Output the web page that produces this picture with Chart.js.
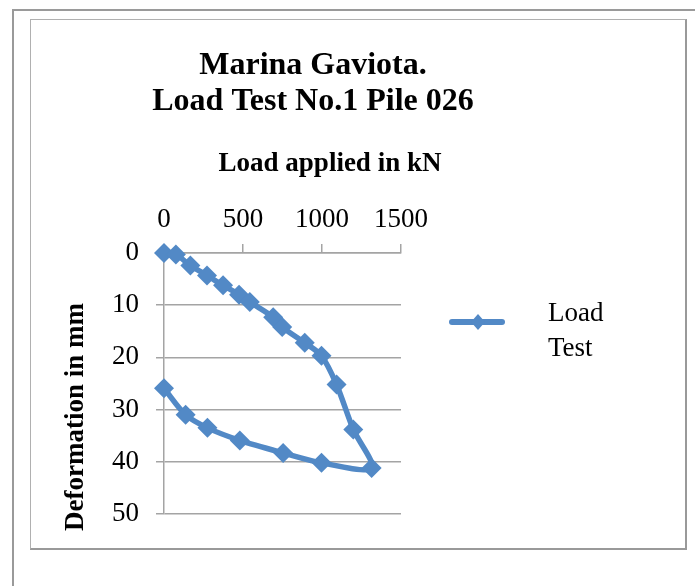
<!DOCTYPE html>
<html>
<head>
<meta charset="utf-8">
<script src="https://cdn.jsdelivr.net/npm/chart.js@4.4.1/dist/chart.umd.min.js"></script>
<style>
  body { margin: 0; background: #fff; overflow: hidden; }
  #frame { position: absolute; left: 12px; top: 9px; width: 800px; height: 700px;
           border-left: 2px solid #9a9a9a; border-top: 2px solid #9a9a9a; }
  #box { position: absolute; left: 30px; top: 19px; width: 654px; height: 528px;
         border: 1px solid #b0b0b0; border-right: 2px solid #999; border-bottom: 2px solid #999; }
  canvas { display: block; }
</style>
</head>
<body>
<div id="frame"></div>
<div id="box"><canvas id="chart" width="654" height="528"></canvas></div>
<script>
// values
const loadKN = [0, 75, 167, 272, 374, 475, 543, 691, 748, 891, 997, 1092, 1198, 1314, 997, 754, 480, 275, 137, 0];
const deformationMm = [0, 0.3, 2.4, 4.3, 6.2, 8.0, 9.4, 12.3, 14.2, 17.2, 19.7, 25.2, 33.8, 41.2, 40.2, 38.3, 35.9, 33.5, 31.0, 25.9];
const titleLines = ['Marina Gaviota.', 'Load Test No.1 Pile 026'];
const xTitle = 'Load applied in kN';
const yTitle = 'Deformation in mm';
const seriesName = ['Load', 'Test'];

const blue = '#5289c6';
const gridGray = '#a4a4a4';

// titles and legend drawn by hand, Excel puts them off-centre
const textPlugin = {
  id: 'texts',
  afterDraw(chart) {
    const ctx = chart.ctx;
    ctx.save();
    ctx.fillStyle = '#000';
    ctx.textAlign = 'center';
    ctx.textBaseline = 'alphabetic';
    ctx.font = 'bold 32px "Liberation Serif"';
    ctx.fillText(titleLines[0], 282, 54);
    ctx.fillText(titleLines[1], 282, 90);
    ctx.font = 'bold 27px "Liberation Serif"';
    ctx.fillText(xTitle, 299, 151);
    ctx.translate(52, 397);
    ctx.rotate(-Math.PI / 2);
    ctx.fillText(yTitle, 0, 0);
    ctx.restore();

    // legend
    ctx.save();
    ctx.strokeStyle = blue;
    ctx.lineWidth = 6;
    ctx.lineCap = 'round';
    ctx.beginPath();
    ctx.moveTo(421, 302);
    ctx.lineTo(471, 302);
    ctx.stroke();
    ctx.fillStyle = blue;
    ctx.beginPath();
    ctx.moveTo(447, 294); ctx.lineTo(454, 302); ctx.lineTo(447, 310); ctx.lineTo(440, 302);
    ctx.closePath();
    ctx.fill();
    ctx.fillStyle = '#000';
    ctx.font = '27px "Liberation Serif"';
    ctx.textAlign = 'left';
    ctx.fillText(seriesName[0], 517, 301);
    ctx.fillText(seriesName[1], 517, 336);
    ctx.restore();
  }
};

const points = loadKN.map((x, i) => ({ x: x, y: deformationMm[i] }));

new Chart(document.getElementById('chart'), {
  type: 'scatter',
  data: {
    datasets: [{
      label: 'Load Test',
      data: points,
      showLine: true,
      borderColor: blue,
      backgroundColor: blue,
      borderWidth: 5.5,
      tension: 0.3,
      pointStyle: 'rectRot',
      pointRadius: 10,
      pointHoverRadius: 10,
      pointBorderWidth: 0,
      clip: false
    }]
  },
  options: {
    responsive: false,
    animation: false,
    devicePixelRatio: 1,
    layout: { padding: { left: 73, top: 163, right: 284, bottom: 34 } },
    plugins: { legend: { display: false }, tooltip: { enabled: false }, title: { display: false } },
    scales: {
      x: {
        type: 'linear',
        position: 'top',
        min: 0, max: 1500,
        afterFit(s) { s.height = 70; },
        ticks: {
          stepSize: 500, padding: 8, color: '#000',
          font: { family: 'Liberation Serif', size: 27 },
          callback: v => String(v)
        },
        grid: { drawOnChartArea: false, drawTicks: true, tickLength: 9, color: gridGray, lineWidth: 1.5 },
        border: { display: true, color: gridGray, width: 1.5 }
      },
      y: {
        type: 'linear',
        reverse: true,
        min: 0, max: 50,
        afterFit(s) { s.width = 60; },
        ticks: { stepSize: 10, padding: 17, color: '#000', font: { family: 'Liberation Serif', size: 27 } },
        grid: { drawTicks: true, tickLength: 8, color: gridGray, lineWidth: 1.5 },
        border: { display: true, color: gridGray, width: 1.5 }
      }
    }
  },
  plugins: [textPlugin]
});
</script>
</body>
</html>
